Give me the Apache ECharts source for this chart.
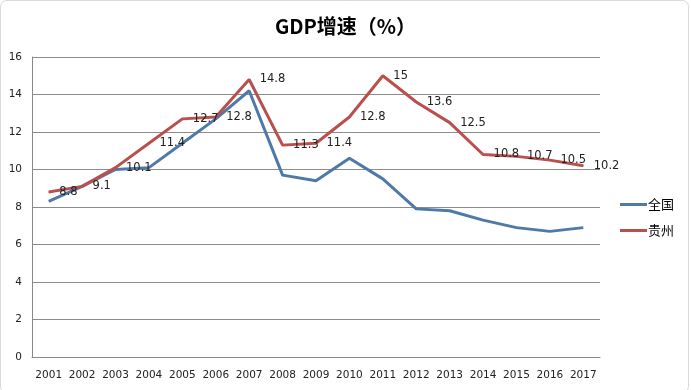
<!DOCTYPE html>
<html><head><meta charset="utf-8">
<script src="https://cdn.jsdelivr.net/npm/echarts@6/dist/echarts.min.js"></script>
<style>html,body{margin:0;padding:0;background:#fff}#c{width:691px;height:390px}</style>
</head><body><div id="c"></div>
<script>
const years = ['2001','2002','2003','2004','2005','2006','2007','2008','2009','2010','2011','2012','2013','2014','2015','2016','2017'];
const national = [8.3, 9.1, 10.0, 10.1, 11.4, 12.7, 14.2, 9.7, 9.4, 10.6, 9.5, 7.9, 7.8, 7.3, 6.9, 6.7, 6.9];
const guizhou = [8.8, 9.1, 10.1, 11.4, 12.7, 12.8, 14.8, 11.3, 11.4, 12.8, 15, 13.6, 12.5, 10.8, 10.7, 10.5, 10.2];
const yTicks = {min: 0, max: 16, interval: 2};

const chart = echarts.init(document.getElementById('c'));
chart.setOption({
  animation: false,
  backgroundColor: '#fff',
  title: {
    text: 'GDP增速（%）', left: 'center', top: 11,
    textStyle: {fontFamily: 'Noto Sans CJK SC', fontWeight: 'bold', fontSize: 20, color: '#000'}
  },
  graphic: [{type: 'rect', shape: {x: 0.5, y: 0.5, width: 688, height: 392, r: 6}, style: {fill: 'none', stroke: '#d9d9d9', lineWidth: 1}, silent: true}],
  grid: {left: 32, right: 91, top: 57, bottom: 33},
  legend: {
    orient: 'vertical', left: 615, top: 193, itemGap: 13,
    icon: 'rect', itemWidth: 27, itemHeight: 3,
    textStyle: {fontFamily: 'Noto Sans CJK SC', fontSize: 13, color: '#000', padding: [0,0,0,-4]},
    data: ['全国', '贵州']
  },
  xAxis: {
    type: 'category', data: years, boundaryGap: true,
    axisLine: {lineStyle: {color: '#888', width: 1}},
    axisTick: {show: false},
    axisLabel: {fontFamily: 'DejaVu Sans', fontSize: 10.5, color: '#222', margin: 13, interval: 0}
  },
  yAxis: {
    type: 'value', min: yTicks.min, max: yTicks.max, interval: yTicks.interval,
    axisLine: {show: true, lineStyle: {color: '#888', width: 1}},
    axisTick: {show: false},
    splitLine: {lineStyle: {color: '#8c8c8c', width: 1}},
    axisLabel: {fontFamily: 'DejaVu Sans', fontSize: 10.5, color: '#222', margin: 10}
  },
  series: [
    {name: '全国', type: 'line', data: national, symbol: 'none',
     lineStyle: {color: '#4f7aa8', width: 3}, itemStyle: {color: '#4f7aa8'}},
    {name: '贵州', type: 'line', data: guizhou, symbol: 'circle', symbolSize: 1, showSymbol: true,
     lineStyle: {color: '#b9504d', width: 3}, itemStyle: {color: '#b9504d'},
     label: {show: true, position: 'right', distance: 10, fontFamily: 'DejaVu Sans', fontSize: 11.5, color: '#222'}}
  ]
});
</script></body></html>
